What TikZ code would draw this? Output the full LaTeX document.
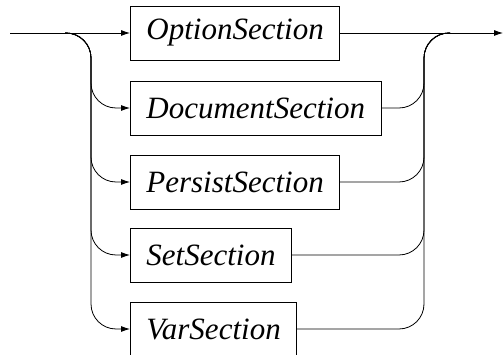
\documentclass[tikz,border=0pt]{standalone}
\usepackage{fontspec}
\setmainfont{Liberation Serif}
\newfontfamily\sectfont{Liberation Serif}
\usetikzlibrary{arrows.meta}

\begin{document}
\begin{tikzpicture}[x=1pt,y=-1pt,line width=0.8pt,
  sect/.style={draw, anchor=west, minimum height=54pt, inner xsep=16pt, inner ysep=0pt,
    font=\fontsize{31}{36}\sectfont\itshape},
  rail/.style={draw, rounded corners=25pt},
  tip/.style={-{Latex[length=9pt,width=6pt]}}]
\useasboundingbox (0,0) rectangle (504,355);
\node[sect] (opt) at (130,33) {OptionSection};
\node[sect] (doc) at (130,108) {DocumentSection};
\node[sect] (per) at (130,182) {PersistSection};
\node[sect] (set) at (130,255) {SetSection};
\node[sect] (var) at (130,329) {VarSection};
\coordinate (start) at (10,33);
\coordinate (ls) at (65,33);
\coordinate (lc) at (91,33);
\coordinate (rc) at (424,33);
\coordinate (re) at (450,33);
\coordinate (end) at (503,33);
\path[draw,tip] (start) -- (opt);
\path[draw,tip] (opt) -- (end);
\foreach \n in {doc,per,set,var} {
  \path[rail,tip] (ls) -- (lc) |- (\n.west);
  \path[rail] (\n.east) -| (rc) -- (re);
}
\end{tikzpicture}
\end{document}
